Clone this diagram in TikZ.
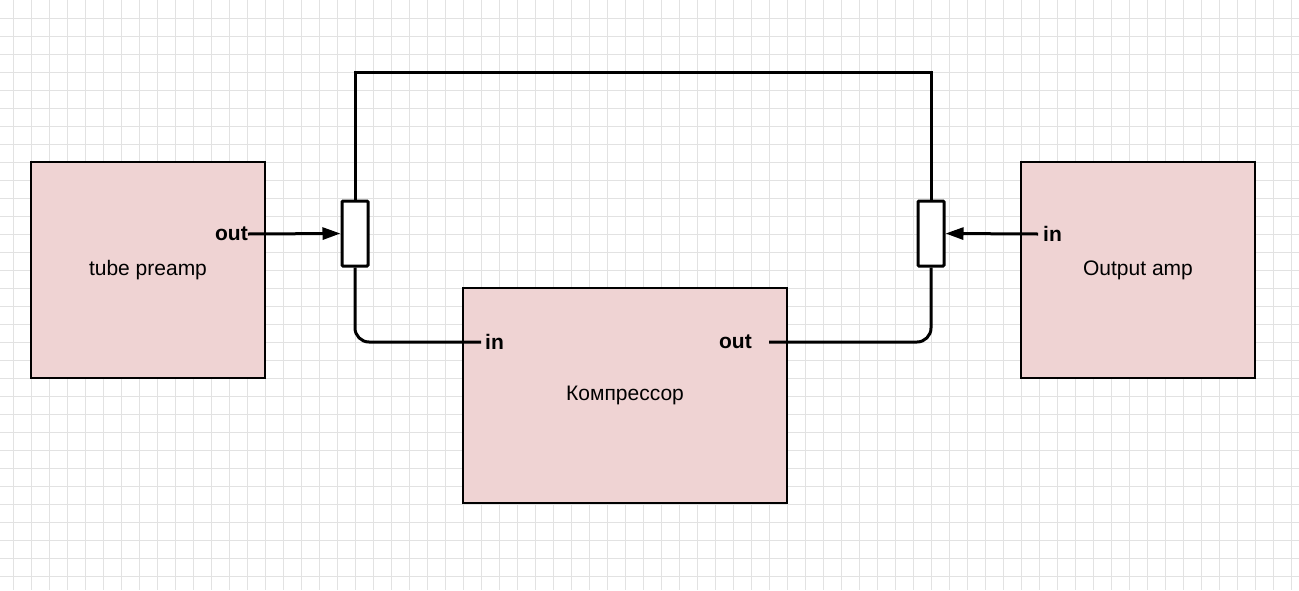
\documentclass[tikz,border=0pt]{standalone}
\usepackage{fontspec}
\setmainfont{Liberation Sans}
\usetikzlibrary{arrows.meta}
\definecolor{boxpink}{HTML}{EFD3D3}
\definecolor{gridgray}{HTML}{E2E2E2}
\tikzset{
  block/.style={draw=black, line width=2pt, fill=boxpink, inner sep=0pt, font=\fontsize{21}{25}\selectfont},
  pot/.style={draw=black, line width=3pt, fill=white, rounded corners=1pt, minimum width=26pt, minimum height=65pt, inner sep=0pt},
  port/.style={font=\fontsize{21}{25}\selectfont\bfseries, inner sep=0pt},
  wire/.style={line width=3pt},
  sig/.style={line width=3pt, -{Triangle[length=18pt,width=12pt]}},
}
\begin{document}
\begin{tikzpicture}[x=1pt,y=-1pt]
\useasboundingbox (0,0) rectangle (1299,590);
\fill[white] (0,0) rectangle (1299,590);
\foreach \i in {0,...,72} {\draw[gridgray, line width=1pt] (13+18*\i,0) -- (13+18*\i,590);}
\foreach \j in {1,...,32} {\draw[gridgray, line width=1pt] (0,18*\j) -- (1299,18*\j);}
% blocks
\node[block, minimum width=234pt, minimum height=216pt] (pre) at (148,270) {tube preamp};
\node[block, minimum width=324pt, minimum height=215pt] (comp) at (625,395.5) {Компрессор};
\node[block, minimum width=234pt, minimum height=216pt] (outamp) at (1138,270) {Output amp};
% pots
\node[pot] (potL) at (355,233.5) {};
\node[pot] (potR) at (931,233.5) {};
% port labels
\node[port, anchor=east] (preout) at (248,234) {out};
\node[port, anchor=west] (compin) at (485,342) {in};
\node[port, anchor=east] (compout) at (752,342) {out};
\node[port, anchor=west] (ampin) at (1043,234) {in};
\coordinate (top) at (643,72);
\coordinate (cinend) at (481,342);
\coordinate (coutend) at (769,342);
\coordinate (ainend) at (1038,234);
% connectors
\draw[sig] (preout.east) -- (potL.west);
\draw[sig] (ainend) -- (potR.east);
\draw[wire] (potL.north) |- (top) -| (potR.north);
\draw[wire, rounded corners=14pt] (potL.south) |- (cinend);
\draw[wire, rounded corners=14pt] (coutend) -| (potR.south);
\end{tikzpicture}
\end{document}
